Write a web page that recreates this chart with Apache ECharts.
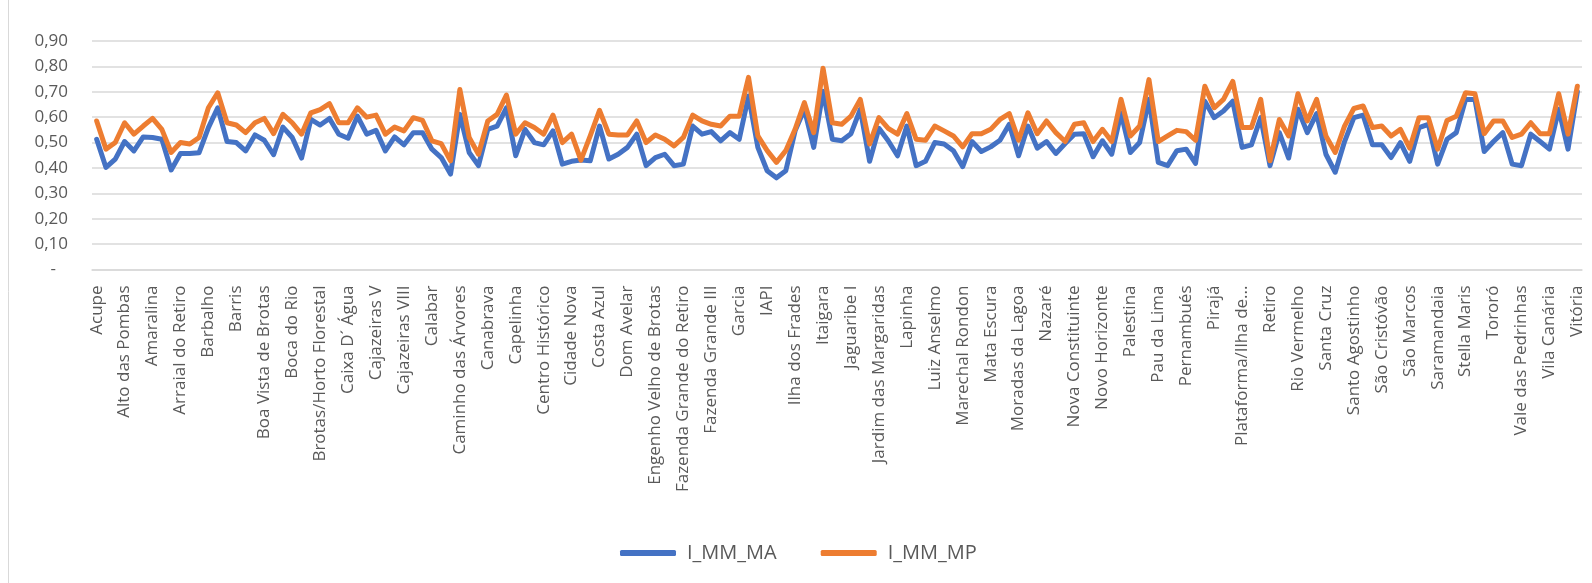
<!DOCTYPE html>
<html>
<head>
<meta charset="utf-8">
<title>I_MM_MA e I_MM_MP por bairro</title>
<script src="https://cdn.jsdelivr.net/npm/echarts@6/dist/echarts.min.js"></script>
<style>
  html, body { margin: 0; padding: 0; background: #ffffff; }
  #chart { width: 1592px; height: 583px; }
</style>
</head>
<body>
<div id="chart"></div>
<script>
// Bairros de Salvador (um rótulo a cada três é exibido no eixo)
const bairros = [
  'Acupe', 'Águas Claras', 'Alto da Terezinha', 'Alto das Pombas', 'Alto do Cabrito', 'Alto do Coqueirinho',
  'Amaralina', 'Areia Branca', 'Arenoso', 'Arraial do Retiro', 'Bairro da Paz', 'Baixa de Quintas',
  'Barbalho', 'Barra', 'Barreiras', 'Barris', 'Beiru/Tancredo Neves', 'Boa Viagem',
  'Boa Vista de Brotas', 'Boa Vista de São Caetano', 'Boca da Mata', 'Boca do Rio', 'Bom Juá', 'Bonfim',
  'Brotas/Horto Florestal', 'Cabula', 'Cabula VI', 'Caixa D´ Água', 'Cajazeiras II', 'Cajazeiras IV',
  'Cajazeiras V', 'Cajazeiras VI', 'Cajazeiras VII', 'Cajazeiras VIII', 'Cajazeiras X', 'Cajazeiras XI',
  'Calabar', 'Calabetão', 'Calçada', 'Caminho das Árvores', 'Caminho de Areia', 'Campinas de Pirajá',
  'Canabrava', 'Candeal', 'Canela', 'Capelinha', 'Cassange', 'Castelo Branco',
  'Centro Histórico', 'Centro', 'Chapada do Rio Vermelho', 'Cidade Nova', 'Comércio', 'Cosme de Farias',
  'Costa Azul', 'Coutos', 'Curuzu', 'Dom Avelar', 'Doron', 'Engenho Velho da Federação',
  'Engenho Velho de Brotas', 'Engomadeira', 'Fazenda Coutos', 'Fazenda Grande do Retiro', 'Fazenda Grande I', 'Fazenda Grande II',
  'Fazenda Grande III', 'Fazenda Grande IV', 'Federação', 'Garcia', 'Graça', 'Granjas Rurais Presidente Vargas',
  'IAPI', 'Ilha Amarela', 'Ilha de Maré', 'Ilha dos Frades', 'Imbuí', 'Itacaranha',
  'Itaigara', 'Itapuã', 'Itinga', 'Jaguaribe I', 'Jardim Armação', 'Jardim Cajazeiras',
  'Jardim das Margaridas', 'Jardim Nova Esperança', 'Jardim Santo Inácio', 'Lapinha', 'Liberdade', 'Lobato',
  'Luiz Anselmo', 'Macaúbas', 'Mangueira', 'Marechal Rondon', 'Mares', 'Massaranduba',
  'Mata Escura', 'Matatu', 'Monte Serrat', 'Moradas da Lagoa', 'Mussurunga', 'Narandiba',
  'Nazaré', 'Nordeste de Amaralina', 'Nova Brasília', 'Nova Constituinte', 'Nova Esperança', 'Nova Sussuarana',
  'Novo Horizonte', 'Novo Marotinho', 'Ondina', 'Palestina', 'Paripe', 'Patamares',
  'Pau da Lima', 'Pau Miúdo', 'Periperi', 'Pernambués', 'Pero Vaz', 'Piatã',
  'Pirajá', 'Pituaçu', 'Pituba', 'Plataforma/Ilha de...', 'Porto Seco Pirajá', 'Praia Grande',
  'Retiro', 'Ribeira', 'Rio Sena', 'Rio Vermelho', 'Roma', 'Saboeiro',
  'Santa Cruz', 'Santa Luzia', 'Santa Mônica', 'Santo Agostinho', 'Santo Antônio', 'São Caetano',
  'São Cristóvão', 'São Gonçalo', 'São João do Cabrito', 'São Marcos', 'São Rafael', 'São Tomé',
  'Saramandaia', 'Saúde', 'Sete de Abril', 'Stella Maris', 'Sussuarana', 'Tancredo Neves',
  'Tororó', 'Trobogy', 'Uruguai', 'Vale das Pedrinhas', 'Vale dos Lagos', 'Valéria',
  'Vila Canária', 'Vila Laura', 'Vila Ruy Barbosa', 'Vitória'
];

// Série I_MM_MA
const iMmMa = [
  0.513, 0.402, 0.435, 0.504, 0.467, 0.522, 0.520, 0.513, 0.392, 0.457,
  0.457, 0.460, 0.559, 0.637, 0.504, 0.500, 0.467, 0.530, 0.509, 0.452,
  0.561, 0.520, 0.439, 0.591, 0.569, 0.595, 0.533, 0.517, 0.604, 0.533,
  0.548, 0.467, 0.522, 0.491, 0.539, 0.539, 0.474, 0.441, 0.376, 0.611,
  0.461, 0.409, 0.552, 0.565, 0.637, 0.448, 0.552, 0.500, 0.491, 0.546,
  0.415, 0.426, 0.431, 0.428, 0.565, 0.435, 0.454, 0.481, 0.533, 0.409,
  0.441, 0.454, 0.409, 0.415, 0.565, 0.533, 0.543, 0.507, 0.539, 0.513,
  0.683, 0.481, 0.389, 0.361, 0.389, 0.546, 0.631, 0.481, 0.702, 0.513,
  0.507, 0.535, 0.631, 0.426, 0.556, 0.507, 0.448, 0.565, 0.409, 0.426,
  0.500, 0.494, 0.468, 0.405, 0.504, 0.465, 0.483, 0.509, 0.572, 0.448,
  0.565, 0.478, 0.504, 0.457, 0.496, 0.533, 0.535, 0.444, 0.507, 0.454,
  0.617, 0.461, 0.500, 0.670, 0.422, 0.409, 0.468, 0.474, 0.418, 0.663,
  0.598, 0.624, 0.663, 0.481, 0.491, 0.598, 0.409, 0.539, 0.439, 0.631,
  0.539, 0.614, 0.454, 0.383, 0.504, 0.598, 0.608, 0.491, 0.491, 0.441,
  0.500, 0.426, 0.559, 0.572, 0.415, 0.513, 0.539, 0.670, 0.670, 0.465,
  0.504, 0.539, 0.415, 0.409, 0.533, 0.504, 0.474, 0.631, 0.474, 0.700
];

// Série I_MM_MP
const iMmMp = [
  0.585, 0.474, 0.500, 0.578, 0.533, 0.565, 0.595, 0.552, 0.461, 0.500,
  0.494, 0.520, 0.637, 0.696, 0.578, 0.569, 0.539, 0.578, 0.595, 0.535,
  0.611, 0.578, 0.533, 0.617, 0.630, 0.653, 0.578, 0.578, 0.637, 0.600,
  0.608, 0.533, 0.561, 0.546, 0.598, 0.587, 0.507, 0.496, 0.428, 0.709,
  0.520, 0.454, 0.585, 0.611, 0.687, 0.533, 0.578, 0.559, 0.533, 0.608,
  0.500, 0.533, 0.431, 0.526, 0.627, 0.533, 0.530, 0.530, 0.585, 0.500,
  0.530, 0.513, 0.487, 0.520, 0.608, 0.585, 0.572, 0.565, 0.604, 0.604,
  0.757, 0.526, 0.468, 0.422, 0.468, 0.552, 0.657, 0.539, 0.793, 0.578,
  0.572, 0.604, 0.670, 0.494, 0.598, 0.556, 0.533, 0.614, 0.513, 0.509,
  0.565, 0.546, 0.526, 0.483, 0.535, 0.535, 0.552, 0.591, 0.614, 0.509,
  0.617, 0.535, 0.585, 0.539, 0.504, 0.572, 0.578, 0.504, 0.552, 0.504,
  0.670, 0.526, 0.565, 0.748, 0.504, 0.526, 0.548, 0.543, 0.509, 0.722,
  0.637, 0.670, 0.741, 0.559, 0.559, 0.670, 0.428, 0.591, 0.526, 0.692,
  0.585, 0.670, 0.526, 0.461, 0.565, 0.634, 0.644, 0.559, 0.565, 0.526,
  0.552, 0.478, 0.598, 0.598, 0.474, 0.587, 0.604, 0.696, 0.692, 0.535,
  0.585, 0.585, 0.520, 0.533, 0.578, 0.535, 0.535, 0.692, 0.533, 0.722
];

const yMin = 0;
const yMax = 0.9;
const yStep = 0.1;

const seriesNames = ['I_MM_MA', 'I_MM_MP'];
const seriesColors = ['#4472C4', '#ED7D31'];

const chart = echarts.init(document.getElementById('chart'), null, { renderer: 'canvas' });

const labelFont = '"Open Sans", "Noto Sans", sans-serif';

const option = {
  animation: false,
  backgroundColor: '#ffffff',
  // left edge of the chart frame
  graphic: [{
    type: 'line',
    shape: { x1: 8.5, y1: 0, x2: 8.5, y2: 583 },
    style: { stroke: '#d9d9d9', lineWidth: 1 },
    silent: true
  }],
  grid: { left: 92, right: 10, top: 41, bottom: 313.5, containLabel: false },
  legend: {
    left: 615,
    top: 538,
    itemWidth: 56,
    itemHeight: 6,
    itemGap: 44,
    icon: 'roundRect',
    textStyle: { fontFamily: labelFont, fontSize: 20, color: '#595959', padding: [0, 0, 0, 6] },
    data: seriesNames
  },
  xAxis: {
    type: 'category',
    data: bairros,
    boundaryGap: true,
    axisLine: { show: true, lineStyle: { color: '#d9d9d9', width: 1.5 } },
    axisTick: { show: false },
    axisLabel: {
      interval: 2,
      rotate: 90,
      margin: 16,
      fontFamily: labelFont,
      fontSize: 17,
      color: '#595959'
    },
    splitLine: { show: false }
  },
  yAxis: {
    type: 'value',
    min: yMin,
    max: yMax,
    interval: yStep,
    axisLine: { show: false },
    axisTick: { show: false },
    splitLine: { lineStyle: { color: '#d9d9d9', width: 1.5 } },
    axisLabel: {
      margin: 24,
      fontFamily: labelFont,
      fontSize: 17,
      color: '#595959',
      formatter: function (v) {
        if (Math.abs(v) < 1e-9) return '{dash|-}';
        return v.toFixed(2).replace('.', ',');
      },
      rich: {
        dash: { fontFamily: labelFont, fontSize: 17, color: '#595959', padding: [0, 12, 0, 0] }
      }
    }
  },
  series: [
    {
      name: seriesNames[0],
      type: 'line',
      data: iMmMa,
      color: seriesColors[0],
      showSymbol: false,
      symbol: 'none',
      lineStyle: { width: 5, color: seriesColors[0], join: 'round', cap: 'round' },
      z: 2
    },
    {
      name: seriesNames[1],
      type: 'line',
      data: iMmMp,
      color: seriesColors[1],
      showSymbol: false,
      symbol: 'none',
      lineStyle: { width: 5, color: seriesColors[1], join: 'round', cap: 'round' },
      z: 3
    }
  ]
};

chart.setOption(option);
</script>
</body>
</html>
